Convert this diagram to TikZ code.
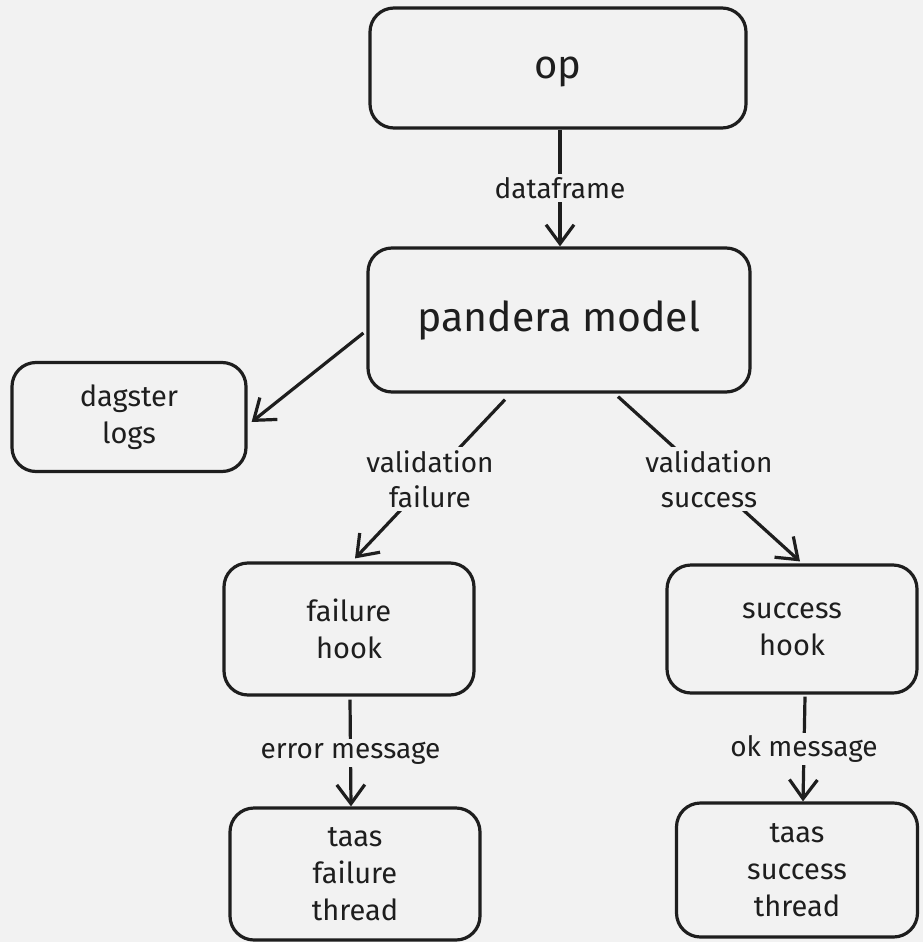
\documentclass[tikz,border=0pt]{standalone}
\usepackage{fontspec}
\setmainfont{Fira Sans}
\usetikzlibrary{arrows.meta}
\definecolor{bg}{HTML}{F2F2F2}
\definecolor{ink}{HTML}{1E1E1E}
\tikzset{
  box/.style={draw=ink, line width=3.2pt, rounded corners=24pt, align=center, text=ink, inner sep=0pt},
  lbl/.style={fill=bg, text=ink, align=center, inner sep=3pt, font=\fontsize{28}{35}\selectfont},
  flow/.style={draw=ink, line width=3.2pt, -{Straight Barb[length=19pt,width=28pt]}}
}
\begin{document}
\begin{tikzpicture}[x=1pt,y=-1pt]
\fill[bg] (0,0) rectangle (923,942);
\useasboundingbox (0,0) rectangle (923,942);
\node[box, minimum width=376pt, minimum height=120pt, text depth=0pt, font=\fontsize{40}{44}\selectfont] (op) at (558,68) {op};
\node[box, minimum width=382pt, minimum height=144pt, font=\fontsize{41}{46}\selectfont] (pandera) at (559,320) {pandera model};
\node[box, minimum width=234pt, minimum height=109pt, font=\fontsize{29}{37}\selectfont] (dagster) at (129,417) {dagster\\logs};
\node[box, minimum width=250pt, minimum height=132pt, font=\fontsize{29}{37}\selectfont] (failhook) at (349,629) {failure\\hook};
\node[box, minimum width=250pt, minimum height=128pt, font=\fontsize{29}{37}\selectfont] (succhook) at (792,629) {success\\hook};
\node[box, minimum width=250pt, minimum height=132pt, font=\fontsize{29}{37}\selectfont] (failthread) at (355,874) {taas\\failure\\thread};
\node[box, minimum width=241pt, minimum height=134pt, font=\fontsize{29}{37}\selectfont] (succthread) at (797,870) {taas\\success\\thread};

\path[flow] ([xshift=2pt]op.south) -- node[lbl] {dataframe} ([xshift=1pt]pandera.north);
\path[flow] ([yshift=-13pt,xshift=-3pt]pandera.west) -- ([yshift=-5pt,xshift=4pt]dagster.east);
\path[flow] ([xshift=-54pt,yshift=-6pt]pandera.south) -- node[lbl] {validation\\failure} ([xshift=6pt,yshift=3pt]failhook.north);
\path[flow] ([xshift=59pt,yshift=-3pt]pandera.south) -- node[lbl] {validation\\success} ([xshift=8pt,yshift=2pt]succhook.north);
\path[flow] ([xshift=1pt,yshift=-3pt]failhook.south) -- node[lbl] {error message} ([xshift=-4pt]failthread.north);
\path[flow] ([xshift=13pt,yshift=-2pt]succhook.south) -- node[lbl] {ok message} ([xshift=6pt]succthread.north);
\end{tikzpicture}
\end{document}
